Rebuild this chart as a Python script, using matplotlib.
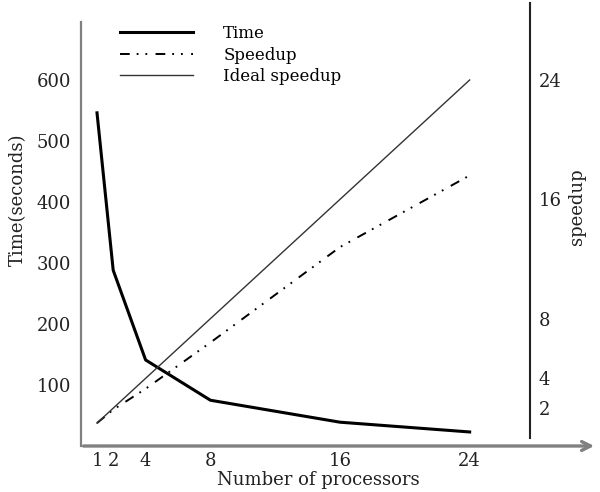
import matplotlib
matplotlib.use('Agg')
import matplotlib.pyplot as plt

plt.rcParams['font.family'] = ['DejaVu Serif']
plt.rcParams['lines.scale_dashes'] = False

processors = [1, 2, 4, 8, 16, 24]
time_sec = [546, 288, 141, 75, 39, 23]
speedup = [1, 1.9, 3.3, 6.4, 12.8, 17.6]
ideal = [1, 2, 4, 8, 16, 24]

time_ticks = [100, 200, 300, 400, 500, 600]
speed_ticks = [2, 4, 8, 16, 24]

grey = '#808080'

fig = plt.figure(figsize=(6, 4.92), dpi=100)
ax = fig.add_axes([80.8 / 600, 46 / 492, (597 - 80.8) / 600, 443 / 492])
ax.set_xlim(0, 31.86)
ax.set_ylim(0, 726)

tw = ax.twinx()
tw.set_ylim(-0.536, 29.16)

l_time, = ax.plot(processors, time_sec, color='black', lw=2.2, label='Time')
l_speed, = tw.plot(processors, speedup, color='black', lw=1.4, label='Speedup',
                   dashes=(7, 5, 1.3, 5, 1.3, 6))
l_ideal, = tw.plot(processors, ideal, color='#333333', lw=1.0, label='Ideal speedup')

# axes lines
for s in ['top', 'right', 'bottom']:
    ax.spines[s].set_visible(False)
ax.spines['left'].set_color(grey)
ax.spines['left'].set_linewidth(1.6)
ax.spines['left'].set_bounds(0, 695)
ax.annotate('', xy=(1, 0), xytext=(0, 0), xycoords='axes fraction',
            arrowprops=dict(arrowstyle='->', color=grey, lw=2.4, mutation_scale=16))

for s in ['top', 'left', 'bottom']:
    tw.spines[s].set_visible(False)
tw.spines['right'].set_position(('data', 27.7))
tw.spines['right'].set_bounds(0, 29.16)
tw.spines['right'].set_color('#222222')
tw.spines['right'].set_linewidth(1.5)

ax.set_xticks(processors)
ax.set_yticks(time_ticks)
tw.set_yticks(speed_ticks)
ax.tick_params(axis='x', length=0, pad=4, labelsize=13, colors='#222222')
ax.tick_params(axis='y', length=0, pad=7, labelsize=13, colors='#222222')
tw.tick_params(axis='y', length=0, pad=6.5, labelsize=13, colors='#222222')

fig.text(318 / 600, 1 - 480 / 492, 'Number of processors', ha='center', va='center',
         fontsize=13, color='#222222')
fig.text(18 / 600, 1 - 200 / 492, 'Time(seconds)', ha='center', va='center',
         rotation=90, fontsize=13, color='#222222')
fig.text(577 / 600, 1 - 207 / 492, 'speedup', ha='center', va='center',
         rotation=90, fontsize=13, color='#222222')

fig.legend(handles=[l_time, l_speed, l_ideal], loc='upper left',
           bbox_to_anchor=(120 / 600, 1 - 25 / 492), frameon=False, fontsize=12,
           handlelength=4.4, handletextpad=1.8, labelspacing=0.27, borderpad=0,
           borderaxespad=0)

fig.savefig('out.png', dpi=100)
